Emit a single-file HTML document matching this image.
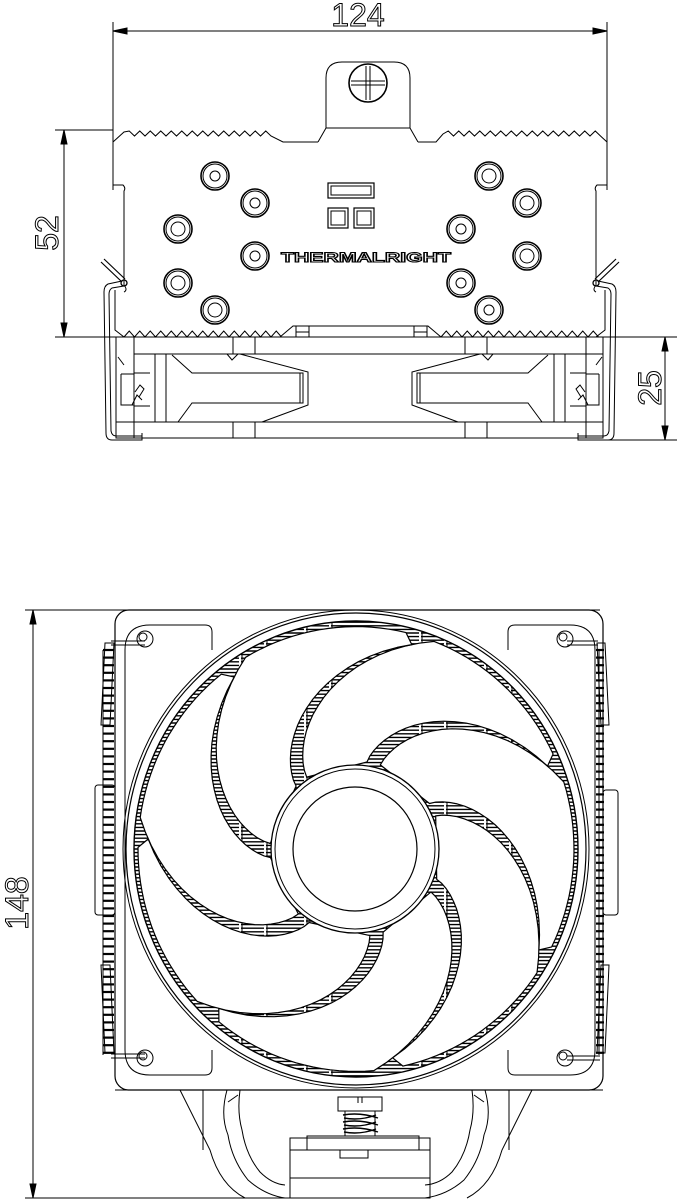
<!DOCTYPE html>
<html><head><meta charset="utf-8">
<style>
html,body{margin:0;padding:0;background:#fff;}
svg{display:block;}
text{font-family:"Liberation Sans",sans-serif;}
</style></head>
<body>
<svg id="s" width="677" height="1200" viewBox="0 0 677 1200" xmlns="http://www.w3.org/2000/svg" fill="none" stroke="#000" stroke-width="1">
<defs>
<clipPath id="ringclip"><ellipse cx="356" cy="849" rx="222" ry="228"/></clipPath>
</defs>

<line x1="113" y1="22" x2="113" y2="190"/>
<line x1="607" y1="22" x2="607" y2="190"/>
<line x1="113" y1="31" x2="607" y2="31"/>
<path d="M113,31 l14,-3 v6z M607,31 l-14,-3 v6z" fill="#000"/>
<text x="358" y="26" font-size="32" text-anchor="middle" fill="#fff" stroke="#000" stroke-width="1">124</text>

<line x1="55" y1="130" x2="113" y2="130"/>
<line x1="55" y1="337" x2="677" y2="337"/>
<line x1="64" y1="130" x2="64" y2="337"/>
<path d="M64,130 l-3,14 h6z M64,337 l-3,-14 h6z" fill="#000"/>
<text transform="translate(58,233) rotate(-90)" font-size="32" text-anchor="middle" fill="#fff" stroke="#000">52</text>

<line x1="600" y1="440" x2="677" y2="440"/>
<line x1="665" y1="337" x2="665" y2="440"/>
<path d="M665,337 l-3,14 h6z M665,440 l-3,-14 h6z" fill="#000"/>
<text transform="translate(661,388) rotate(-90)" font-size="32" text-anchor="middle" fill="#fff" stroke="#000">25</text>

<path d="M318,142 L326,128 V78 Q326,62 342,62 H394 Q410,62 410,78 V128 L418,142"/>
<line x1="326" y1="128" x2="410" y2="128"/>
<circle cx="368" cy="83" r="19" stroke-width="1.6"/>
<path d="M366,66 V100 M370,66 V100 M351,81 H385 M351,85 H385"/>

<path d="M113,142 V185 H123 Q126,188 124,191 V285 Q128,290 124,292"/>
<path d="M607,142 V185 H597 Q594,188 596,191 V285 Q592,290 596,292"/>
<path id="serrTop" d=""/>
<path id="serrBot" d=""/>
<path d="M115,290 V330 L124,337 M605,290 V330 L596,337"/>
<path d="M280,337 L293,326 H428 L441,337 M296,326 V337 M309,326 V337 M414,326 V337 M427,326 V337 M309,332 H296 M427,332 H414"/>
<g id="holes" stroke-width="1.6"></g>
<rect x="328" y="183" width="46" height="15" stroke-width="1.2"/>
<rect x="331" y="186" width="40" height="9"/>
<rect x="328" y="208" width="20" height="20" stroke-width="1.2"/>
<rect x="331" y="211" width="14" height="14"/>
<rect x="354" y="208" width="20" height="20" stroke-width="1.2"/>
<rect x="357" y="211" width="14" height="14"/>
<text x="281" y="262" font-size="14" textLength="170" lengthAdjust="spacingAndGlyphs" fill="#fff" stroke="#000" stroke-width="1.1" font-weight="bold">THERMALRIGHT</text>

<path d="M101,262 L122,282 M104,259 L125,279" stroke-width="1.2"/>
<path d="M619,262 L598,282 M616,259 L595,279" stroke-width="1.2"/>
<circle cx="124" cy="283" r="3" stroke-width="1.3"/>
<circle cx="596" cy="283" r="3" stroke-width="1.3"/>
<path d="M122,281 L108,284 Q104,286 104,292 L106,433 Q106,440 112,440 H142 V433 M124,286 L112,288 Q109,290 109,294 L111,431 Q112,436 116,436 H142"/>
<path d="M598,281 L612,284 Q616,286 616,292 L614,433 Q614,440 608,440 H578 V433 M596,286 L608,288 Q611,290 611,294 L609,431 Q608,436 604,436 H578"/>

<path d="M116,337 V438 H603 V337"/>
<line x1="134" y1="354" x2="603" y2="354"/>
<line x1="116" y1="422" x2="603" y2="422"/>
<line x1="134" y1="337" x2="134" y2="438"/>
<line x1="586" y1="337" x2="586" y2="438"/>
<path d="M166,354 V422 M155,354 V422 M565,354 V422 M554,354 V422"/>
<path d="M118,357 L124,365 M602,357 L596,365"/>
<path d="M121,374 H134 M121,374 V405 H134 M599,374 H586 M599,374 V405 H586"/>
<path d="M134,373 H150 M134,406 H150 M586,373 H570 M586,406 H570"/>
<path d="M132,405 L137,395 L142,400 M135,392 L140,385 L144,389 L139,397"/>
<path d="M588,405 L583,395 L578,400 M585,392 L580,385 L576,389 L581,397"/>
<path d="M233,337 V354 M255,337 V354 M233,422 V438 M255,422 V438 M465,337 V354 M487,337 V354 M465,422 V438 M487,422 V438"/>
<path d="M172,355 L192,373 H303 V403 H192 L178,422"/>
<path d="M240,354 L308,372 V405 L262,422"/>
<path d="M300,373 V403"/>
<path d="M227,354 L232,360 L238,354"/>
<path d="M548,355 L528,373 H417 V403 H528 L542,422"/>
<path d="M480,354 L412,372 V405 L458,422"/>
<path d="M420,373 V403"/>
<path d="M493,354 L488,360 L482,354"/>

<line x1="25" y1="610" x2="600" y2="610"/>
<line x1="25" y1="1198" x2="290" y2="1198"/>
<line x1="33" y1="610" x2="33" y2="1198"/>
<path d="M33,610 l-3,14 h6z M33,1198 l-3,-14 h6z" fill="#000"/>
<text transform="translate(28,903) rotate(-90)" font-size="32" text-anchor="middle" fill="#fff" stroke="#000">148</text>

<g id="fins" stroke-width="2.2"></g>
<line x1="103" y1="650" x2="103" y2="1055"/>
<line x1="599" y1="650" x2="599" y2="1055"/>
<path d="M105,643 L101,725 H110 L114,643 Z"/>
<path d="M597,643 L601,725 H609 L605,643 Z"/>
<path d="M105,1053 L101,965 H110 L114,1053 Z"/>
<path d="M597,1053 L601,965 H609 L605,1053 Z"/>
<rect x="95" y="785" width="20" height="130" rx="3"/>
<rect x="603" y="790" width="15" height="125" rx="3"/>
<path d="M111,641 H145 M111,645 H145 M567,641 H598 M567,645 H598 M111,1054 H145 M111,1058 H145 M567,1056 H600 M567,1060 H600"/>

<rect x="115" y="610" width="488" height="480" rx="14" stroke-width="1.2"/>
<path id="corners" d=""/>
<circle cx="145" cy="639" r="8"/><circle cx="143" cy="637" r="4"/>
<circle cx="565" cy="639" r="8"/><circle cx="563" cy="637" r="4"/>
<circle cx="145" cy="1058" r="8"/><circle cx="143" cy="1056" r="4"/>
<circle cx="565" cy="1058" r="8"/><circle cx="563" cy="1056" r="4"/>

<g clip-path="url(#ringclip)" id="hatch"></g>
<g id="blades" fill="#fff" stroke="#000" stroke-width="1.2"></g>
<ellipse cx="356" cy="849" rx="222" ry="228" stroke-width="1.4"/>
<ellipse cx="356" cy="849" rx="230" ry="236" stroke-width="1.2"/>
<ellipse cx="356" cy="849" rx="233" ry="239"/>
<circle cx="355" cy="849" r="84" fill="#fff" stroke-width="1.3"/>
<circle cx="355" cy="849" r="80"/>
<circle cx="355" cy="849" r="62" stroke-width="1.2"/>

<line x1="115" y1="1090" x2="603" y2="1090"/>
<path d="M180,1090 L210,1150 Q220,1185 245,1198"/>
<path d="M532,1090 L502,1150 Q492,1185 467,1198"/>
<path d="M203,1090 V1150 M509,1090 V1150"/>
<path d="M227,1090 Q220,1115 228,1135 Q232,1160 248,1180 Q265,1195 285,1198"/>
<path d="M485,1090 Q492,1115 484,1135 Q480,1160 464,1180 Q447,1195 425,1198"/>
<path d="M240,1090 Q237,1112 242,1130 Q246,1155 260,1172 Q272,1184 285,1185"/>
<path d="M472,1090 Q475,1112 470,1130 Q466,1155 452,1172 Q440,1184 425,1185"/>
<path d="M228,1102 L238,1095 M484,1102 L474,1095"/>
<rect x="290" y="1138" width="140" height="60"/>
<line x1="290" y1="1150" x2="430" y2="1150"/>
<line x1="290" y1="1178" x2="430" y2="1178"/>
<rect x="307" y="1136" width="112" height="14"/>
<rect x="340" y="1150" width="28" height="8"/>
<rect x="338" y="1097" width="44" height="14"/>
<line x1="358" y1="1097" x2="358" y2="1103"/><line x1="362" y1="1097" x2="362" y2="1103"/>
<path d="M345,1111 V1136 M375,1111 V1136"/>
<path d="M343,1115 Q360,1112 378,1118 M343,1122 Q360,1119 378,1125 M343,1129 Q360,1126 378,1132 M344,1118 Q360,1121 376,1115 M344,1125 Q360,1128 376,1122 M344,1132 Q360,1135 376,1129" stroke-width="1.4"/>
</svg>
<script>
(function(){
var NS="http://www.w3.org/2000/svg";
function el(parent,tag,attrs){var e=document.createElementNS(NS,tag);for(var k in attrs)e.setAttribute(k,attrs[k]);parent.appendChild(e);return e;}
function serr(x0,x1,y,amp,step){var d="M"+x0+","+y;for(var x=x0;x<x1;x+=step){d+=" L"+(x+step/2)+","+(y-amp)+" L"+(x+step)+","+y;}return d;}
document.getElementById("serrTop").setAttribute("d","M113,142 L124,132 "+serr(124,270,136,5,10.5).replace(/^M[^ ]+/,"")+" L283,142 H318 M418,142 H436 L443,134 "+serr(443,597,136,5,10.5).replace(/^M[^ ]+/,"")+" L607,142");
document.getElementById("serrBot").setAttribute("d",serr(124,280,337,6,10.5)+" M441,337 "+serr(441,596,337,6,10.5).replace(/^M[^ ]+/,""));
var hs=[[215,176,5],[255,203,5],[178,229,7],[255,256,5],[178,283,7],[215,310,7],[489,176,7],[527,203,7],[461,229,5],[527,256,7],[461,283,5],[489,310,5]];
var hg=document.getElementById("holes");
hs.forEach(function(h){el(hg,"circle",{cx:h[0],cy:h[1],r:14});el(hg,"circle",{cx:h[0],cy:h[1],r:12,"stroke-width":1});el(hg,"circle",{cx:h[0],cy:h[1],r:h[2],"stroke-width":1});});
var fg=document.getElementById("fins");
for(var y=650;y<1055;y+=7.6){el(fg,"line",{x1:103,y1:y,x2:114,y2:y});el(fg,"line",{x1:596,y1:y,x2:604,y2:y});}
var c="M125,650 Q125,625 150,625 H205 Q212,625 212,632 V650 M125,650 V760 M595,650 Q595,625 570,625 H515 Q508,625 508,632 V650 M595,650 V760";
c+=" M125,1050 Q125,1075 150,1075 H205 Q212,1075 212,1068 V1050 M125,1050 V940 M595,1050 Q595,1075 570,1075 H515 Q508,1075 508,1068 V1050 M595,1050 V940";
c+=" M125,760 V940 M595,760 V940";
document.getElementById("corners").setAttribute("d",c);
var hg2=document.getElementById("hatch");
for(var y=615;y<1085;y+=3.6){el(hg2,"line",{x1:120,y1:y.toFixed(1),x2:595,y2:y.toFixed(1),"stroke-width":1.4});}
[240,265,305,330,420,445,485,510].forEach(function(x){el(hg2,"line",{x1:x,y1:615,x2:x,y2:1085,"stroke-width":2,stroke:"#fff"});el(hg2,"line",{x1:x+2,y1:615,x2:x+2,y2:1085});});
var bg=document.getElementById("blades");
var cx=356,cy=849,r0=86,r1=218;
function pt(r,a){var rad=a*Math.PI/180;return [cx+r*Math.sin(rad),cy-r*Math.cos(rad)*1.02];}
for(var i=0;i<7;i++){
  var a0=-35+i*360/7, span=46, sweep=56;
  var pts=[],N=20,j,f,r;
  for(j=0;j<=N;j++){f=j/N;r=r0+(r1-r0)*f;pts.push(pt(r,a0+sweep*Math.pow(f,1.3)));}
  for(j=1;j<N;j++){f=j/N;pts.push(pt(r1,a0+sweep+span*f));}
  for(j=N;j>=0;j--){f=j/N;r=r0+(r1-10-r0)*f;pts.push(pt(r,a0+span*0.92+sweep*Math.pow(f,1.3)+span*0.08*f));}
  var d="M"+pts.map(function(p){return p[0].toFixed(1)+","+p[1].toFixed(1);}).join(" L")+" Z";
  el(bg,"path",{d:d,"stroke-linejoin":"round"});
}
})();
</script>
</body></html>
